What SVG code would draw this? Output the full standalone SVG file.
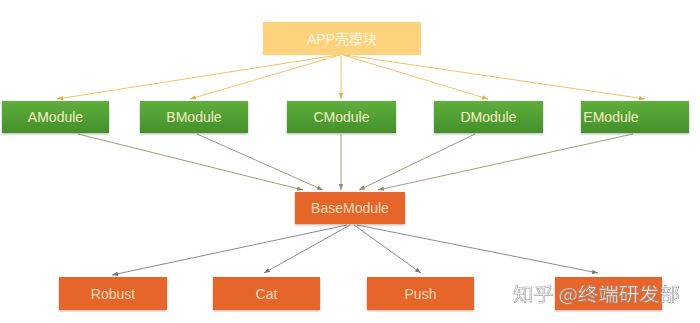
<svg xmlns="http://www.w3.org/2000/svg" width="700" height="323" viewBox="0 0 700 323">
<style>
.t{font-family:"Liberation Sans","Noto Sans CJK SC",sans-serif;font-size:14px;text-anchor:middle;dominant-baseline:central}
.g rect{fill:url(#gg);filter:url(#sh)}
.g text{fill:#f3efc4}
.o rect{fill:#e6652a;filter:url(#sh)}
.o text{fill:#f7d9b8}
.y{stroke:#efc468;stroke-width:1;fill:none;marker-end:url(#ay)}
.m{stroke:#a59a80;stroke-width:1;fill:none;marker-end:url(#am)}
.b{stroke:#8c8c8c;stroke-width:1;fill:none;marker-end:url(#ab)}
</style>
<defs>
<linearGradient id="gg" x1="0" y1="0" x2="0" y2="1"><stop offset="0" stop-color="#5fae3c"/><stop offset="1" stop-color="#44902a"/></linearGradient>
<filter id="sh" x="-10%" y="-20%" width="120%" height="150%"><feDropShadow dx="0" dy="1" stdDeviation="1" flood-color="#000" flood-opacity="0.3"/></filter>
<marker id="ay" viewBox="0 0 8 6" refX="8" refY="3" markerWidth="6" markerHeight="5" orient="auto"><path d="M0,0L8,3L0,6z" fill="#e0b050"/></marker>
<marker id="am" viewBox="0 0 8 6" refX="8" refY="3" markerWidth="6" markerHeight="5" orient="auto"><path d="M0,0L8,3L0,6z" fill="#958a6a"/></marker>
<marker id="ab" viewBox="0 0 8 6" refX="8" refY="3" markerWidth="6" markerHeight="5" orient="auto"><path d="M0,0L8,3L0,6z" fill="#777"/></marker>
</defs>
<rect width="700" height="323" fill="#fff"/>
<g id="connectors">
<path class="y" d="M338,55L57,99"/>
<path class="y" d="M340,55L190,99"/>
<path class="y" d="M341,55L341,99"/>
<path class="y" d="M343,55L488,99"/>
<path class="y" d="M345,55L645,99"/>
<path class="m" d="M78,134L303,190"/>
<path class="m" d="M197,134L323,190"/>
<path class="m" d="M341,134L341,190"/>
<path class="m" d="M475,134L359,190"/>
<path class="m" d="M633,134L378,190"/>
<path class="b" d="M347,225L112,275"/>
<path class="b" d="M350,225L264,273"/>
<path class="b" d="M354,225L421,273"/>
<path class="b" d="M357,225L598,273"/>
</g>
<g id="app"><rect x="263" y="22" width="158" height="33" fill="#fdd27d"/><text class="t" x="342" y="38.500" fill="#fff5e0">APP壳模块</text></g>
<g id="amodule" class="g"><rect x="2" y="101" width="107" height="32"/><text class="t" x="55.500" y="117">AModule</text></g>
<g id="bmodule" class="g"><rect x="140" y="101" width="108" height="32"/><text class="t" x="194" y="117">BModule</text></g>
<g id="cmodule" class="g"><rect x="287" y="101" width="109" height="32"/><text class="t" x="341.500" y="117">CModule</text></g>
<g id="dmodule" class="g"><rect x="434" y="101" width="109" height="32"/><text class="t" x="488.500" y="117">DModule</text></g>
<g id="emodule" class="g"><rect x="581" y="101" width="108" height="32"/><text class="t" x="611" y="117">EModule</text></g>
<g id="basemodule" class="o"><rect x="295" y="192" width="110" height="32"/><text class="t" x="350" y="208">BaseModule</text></g>
<g id="robust" class="o"><rect x="59" y="277" width="108" height="33"/><text class="t" x="113" y="294">Robust</text></g>
<g id="cat" class="o"><rect x="213" y="277" width="107" height="33"/><text class="t" x="266.500" y="294">Cat</text></g>
<g id="push" class="o"><rect x="367" y="277" width="107" height="33"/><text class="t" x="420.500" y="294">Push</text></g>
<g id="node4" class="o"><rect x="555" y="277" width="107" height="33"/></g>
<text x="513" y="301" font-family="'Noto Sans CJK SC',sans-serif" font-size="18" textLength="167" lengthAdjust="spacingAndGlyphs" fill="#fff" stroke="#9a9a9a" stroke-width="0.6" opacity="0.9">知乎 @终端研发部</text>
</svg>
